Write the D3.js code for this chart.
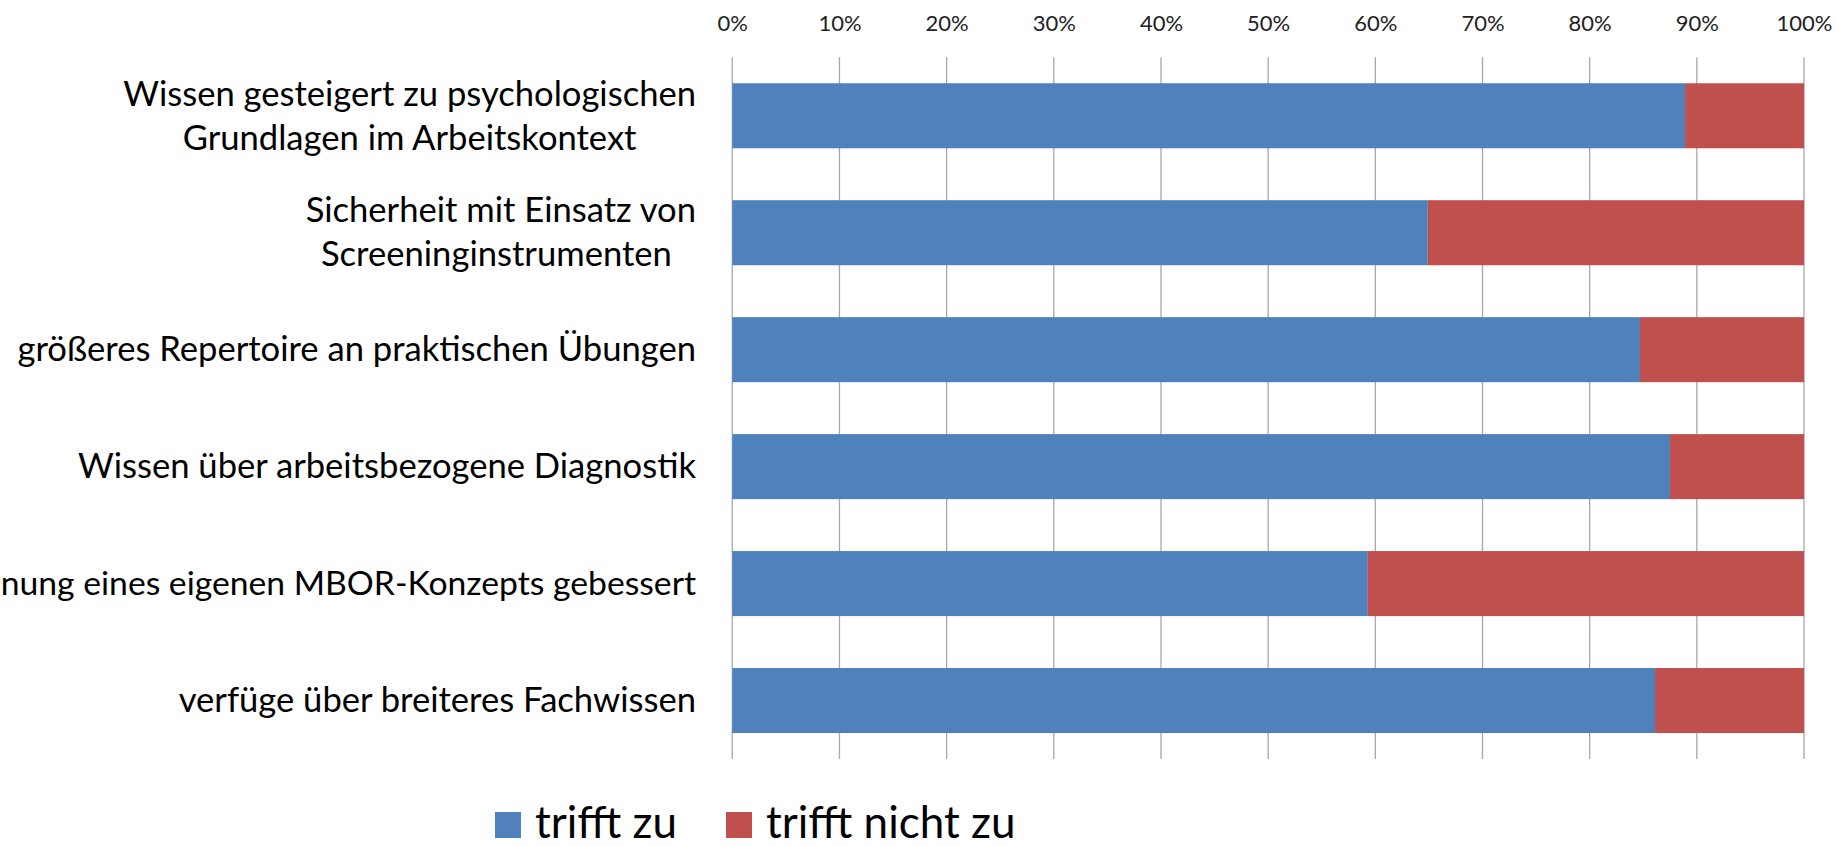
<!DOCTYPE html>
<html><head><meta charset="utf-8">
<script src="https://cdn.jsdelivr.net/npm/d3@7"></script>
<style>
html,body{margin:0;padding:0;background:#fff;}
svg text{font-family:Lato, "Open Sans", sans-serif;white-space:pre;}
</style></head>
<body>
<svg id="chart" width="1837" height="846"></svg>
<script>
const categories = [
  ["Wissen gesteigert zu psychologischen", "Grundlagen im Arbeitskontext"],
  ["Sicherheit mit Einsatz von", "Screeninginstrumenten "],
  ["größeres Repertoire an praktischen Übungen"],
  ["Wissen über arbeitsbezogene Diagnostik"],
  ["nung eines eigenen MBOR-Konzepts gebessert"],
  ["verfüge über breiteres Fachwissen"]
];
const seriesNames = ["trifft zu", "trifft nicht zu"];
const triffZu = [88.9, 64.9, 84.7, 87.5, 59.3, 86.1];
const triffNichtZu = [11.1, 35.1, 15.3, 12.5, 40.7, 13.9];
const tickValues = [0, 10, 20, 30, 40, 50, 60, 70, 80, 90, 100];
const colors = ["#4F81BD", "#C0504D"];

(function () {
const svg = d3.select("#chart");
const pLeft = 732.3, pRight = 1804, pTop = 57.3, pBottom = 759;
const x = d3.scaleLinear().domain([0, 100]).range([pLeft, pRight]);
const y = d3.scaleBand().domain(d3.range(categories.length)).range([pTop, pBottom])
  .paddingInner(0.444).paddingOuter(0.222);

// gridlines
svg.append("g").selectAll("line").data(tickValues).join("line")
  .attr("x1", d => x(d)).attr("x2", d => x(d))
  .attr("y1", pTop).attr("y2", pBottom)
  .attr("stroke", "#a8a8a8").attr("stroke-width", 1.3);

// axis tick labels (top)
const axis = d3.axisTop(x).tickValues(tickValues).tickFormat(d => d + "%").tickSize(0).tickPadding(0);
const ag = svg.append("g").attr("transform", "translate(0,31)").call(axis);
ag.select(".domain").remove();
ag.selectAll("text").attr("font-family", "Lato, sans-serif").attr("font-size", 22).attr("fill", "#222");

// stacked bars
const rows = triffZu.map((v, i) => ({i, a: v, b: triffNichtZu[i]}));
const stack = d3.stack().keys(["a", "b"])(rows);
svg.append("g").selectAll("g").data(stack).join("g")
  .attr("fill", (d, k) => colors[k])
  .selectAll("rect").data(d => d).join("rect")
  .attr("x", d => x(d[0])).attr("width", d => x(d[1]) - x(d[0]))
  .attr("y", d => y(d.data.i)).attr("height", y.bandwidth());

// category labels
const labelRight = 696;
const fsBase = 34.6, lh = 44;
const lg = svg.append("g");
categories.forEach((lines, i) => {
  const cy = y(i) + y.bandwidth() / 2;
  const g = lg.append("g");
  const texts = lines.map((t, j) => g.append("text").text(t)
    .attr("font-size", fsBase).attr("fill", "#000").attr("text-anchor", "middle"));
  let maxW = d3.max(texts, t => t.node().getComputedTextLength());
  let fs = fsBase;
  if (maxW > labelRight - 1) {
    fs = fsBase * (labelRight - 1) / maxW;
    texts.forEach(t => t.attr("font-size", fs));
    maxW = d3.max(texts, t => t.node().getComputedTextLength());
  }
  const n = lines.length;
  texts.forEach((t, j) => {
    t.attr("x", labelRight - maxW / 2)
     .attr("y", cy + (j - (n - 1) / 2) * lh + fs * 0.34);
  });
});

// legend
const legend = svg.append("g");
const legX = [495, 726];
const legBase = 838;
seriesNames.forEach((s, k) => {
  legend.append("rect").attr("x", legX[k]).attr("y", legBase - 26).attr("width", 26).attr("height", 26).attr("fill", colors[k]);
  legend.append("text").attr("x", legX[k] + 40).attr("y", legBase).text(s)
    .attr("font-size", 44).attr("fill", "#000");
});
})();
</script>
</body></html>
